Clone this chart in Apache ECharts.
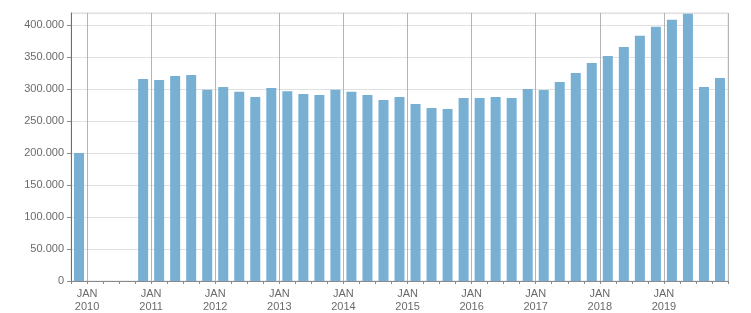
<!DOCTYPE html>
<html>
<head>
<meta charset="utf-8">
<script src="https://cdn.jsdelivr.net/npm/echarts@6/dist/echarts.min.js"></script>
<style>
html,body{margin:0;padding:0;background:#fff;}
#c{width:751px;height:313px;}
</style>
</head>
<body>
<div id="c"></div>
<script>
// Quarters from 2009 Q4 to 2019 Q4
const quarters = [
  '2009 Q4',
  '2010 Q1','2010 Q2','2010 Q3','2010 Q4',
  '2011 Q1','2011 Q2','2011 Q3','2011 Q4',
  '2012 Q1','2012 Q2','2012 Q3','2012 Q4',
  '2013 Q1','2013 Q2','2013 Q3','2013 Q4',
  '2014 Q1','2014 Q2','2014 Q3','2014 Q4',
  '2015 Q1','2015 Q2','2015 Q3','2015 Q4',
  '2016 Q1','2016 Q2','2016 Q3','2016 Q4',
  '2017 Q1','2017 Q2','2017 Q3','2017 Q4',
  '2018 Q1','2018 Q2','2018 Q3','2018 Q4',
  '2019 Q1','2019 Q2','2019 Q3','2019 Q4'
];
const values = [
  200000,
  null, null, null, 315500,
  314000, 320000, 321800, 298500,
  303000, 295500, 287500, 301500,
  296500, 292000, 290500, 298500,
  295500, 290500, 282700, 287500,
  276500, 270200, 268600, 285800,
  285800, 287400, 285800, 300000,
  298400, 310800, 325000, 340500,
  351500, 365600, 382800, 397000,
  407800, 417500, 303000, 317100
];
const monthLabel = 'JAN';
const yMax = 418500;
const yStep = 50000;

function fmt(v){
  return String(Math.round(v)).replace(/\B(?=(\d{3})+(?!\d))/g, '.');
}
const font = 'Liberation Sans, Arial, sans-serif';
const chart = echarts.init(document.getElementById('c'), null, {renderer:'canvas'});
chart.setOption({
  animation: false,
  grid: {left: 71, right: 23, top: 13, bottom: 32, show: true, borderColor: '#dcdcdc', borderWidth: 1, backgroundColor: 'transparent'},
  xAxis: {
    type: 'category',
    data: quarters,
    boundaryGap: true,
    axisLine: {show: true, lineStyle: {color: '#8a8a8a', width: 1}},
    axisTick: {show: true, interval: 0, length: 3, lineStyle: {color: '#8a8a8a'}},
    splitLine: {show: true, interval: function(i, v){ return /Q1$/.test(v); }, lineStyle: {color: '#b4b4b4', width: 1}},
    axisLabel: {
      interval: function(i, v){ return /Q1$/.test(v); },
      formatter: function(v){ return monthLabel + '\n' + v.slice(0,4); },
      color: '#6a6a6a', fontFamily: font, fontSize: 11, lineHeight: 13,
      margin: 6, padding: [0, 16, 0, 0], align: 'center'
    }
  },
  yAxis: {
    type: 'value',
    min: 0, max: yMax, interval: yStep,
    axisLine: {show: true, lineStyle: {color: '#6e6e6e', width: 1}},
    axisTick: {show: true, length: 4, lineStyle: {color: '#8a8a8a'}},
    splitLine: {show: true, lineStyle: {color: '#e0e0e0', width: 1}},
    axisLabel: {
      showMaxLabel: false,
      formatter: function(v){ return v % yStep === 0 ? fmt(v) : ''; },
      color: '#6a6a6a', fontFamily: font, fontSize: 11, margin: 7
    }
  },
  series: [{
    type: 'bar',
    data: values,
    barWidth: 10,
    itemStyle: {color: '#78b0d3'}
  }]
});
</script>
</body>
</html>
